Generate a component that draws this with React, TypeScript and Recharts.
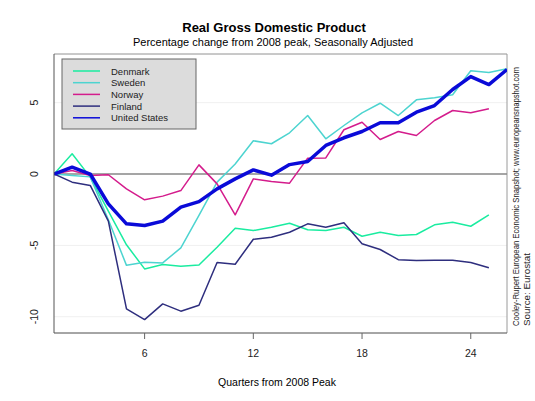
import React from 'react';
import { LineChart, Line, XAxis, YAxis, CartesianGrid, ReferenceLine } from 'recharts';

// quarters since the 2008 peak
const quarters = [1, 2, 3, 4, 5, 6, 7, 8, 9, 10, 11, 12, 13, 14, 15, 16, 17, 18, 19, 20, 21, 22, 23, 24, 25, 26];

const denmark = [0, 1.42, -0.22, -2.6, -4.96, -6.65, -6.34, -6.46, -6.37, -5.13, -3.8, -3.96, -3.73, -3.45, -3.91, -3.96, -3.73, -4.36, -4.08, -4.31, -4.24, -3.56, -3.38, -3.66, -2.87];
const sweden = [0, -0.1, -0.2, -3.2, -6.4, -6.18, -6.23, -5.17, -2.9, -0.57, 0.7, 2.33, 2.12, 2.89, 4.1, 2.47, 3.4, 4.29, 4.96, 4.1, 5.2, 5.34, 5.55, 7.24, 7.12, 7.37];
const norway = [0, 0.25, -0.1, -0.05, -1.04, -1.81, -1.55, -1.16, 0.64, -0.69, -2.86, -0.34, -0.53, -0.64, 1.11, 1.13, 3.1, 3.63, 2.42, 2.98, 2.7, 3.75, 4.45, 4.3, 4.57];
const finland = [0, -0.57, -0.8, -3.3, -9.45, -10.2, -9.1, -9.61, -9.2, -6.2, -6.32, -4.57, -4.43, -4.08, -3.49, -3.73, -3.41, -4.89, -5.29, -6.0, -6.06, -6.04, -6.04, -6.2, -6.57];
const unitedStates = [0, 0.48, 0, -2.09, -3.49, -3.61, -3.3, -2.32, -1.93, -1.04, -0.34, 0.29, -0.08, 0.66, 0.88, 2.0, 2.54, 2.98, 3.59, 3.59, 4.33, 4.8, 5.92, 6.83, 6.27, 7.32];

const xTicks = [6, 12, 18, 24];
const yTicks = [-10, -5, 0, 5];

const series = [
  { key: 'denmark', name: 'Denmark', values: denmark, color: '#1aeca0', width: 1.5 },
  { key: 'sweden', name: 'Sweden', values: sweden, color: '#4dd4d0', width: 1.5 },
  { key: 'norway', name: 'Norway', values: norway, color: '#d41c8c', width: 1.5 },
  { key: 'finland', name: 'Finland', values: finland, color: '#2e2e7e', width: 1.5 },
  { key: 'us', name: 'United States', values: unitedStates, color: '#0a0ad8', width: 3.5 },
];

const data = quarters.map((q, i) => {
  const row: any = { q };
  series.forEach((s) => {
    if (i < s.values.length) row[s.key] = s.values[i];
  });
  return row;
});

const FONT = '"Liberation Sans", Arial, Helvetica, sans-serif';
const Y_MIN = -11.14;
const Y_MAX = 8.41;

const XTick = (props: any) => {
  const { x, payload } = props;
  return (
    <text x={x} y={353} textAnchor="middle" dominantBaseline="central" fontSize={10.5} fill="#222" fontFamily={FONT}>
      {payload.value}
    </text>
  );
};

const YTick = (props: any) => {
  const { y, payload } = props;
  return (
    <text
      transform={`translate(34,${y}) rotate(-90)`}
      textAnchor="middle"
      dominantBaseline="central"
      fontSize={10.5}
      fill="#222"
      fontFamily={FONT}
    >
      {payload.value}
    </text>
  );
};

export default function App() {
  return (
    <div style={{ position: 'absolute', left: 0, top: 0, width: 535, height: 401, background: '#fff' }}>
      <LineChart
        width={535}
        height={401}
        data={data}
        margin={{ top: 54, right: 28, left: 24, bottom: 38 }}
      >
        <CartesianGrid vertical={false} stroke="#f0f0f0" />
        <XAxis
          dataKey="q"
          type="number"
          domain={[1, 26]}
          ticks={xTicks}
          height={30}
          axisLine={{ stroke: '#555' }}
          tickLine={{ stroke: '#666' }}
          tickSize={6}
          tick={<XTick />}
          allowDataOverflow
        />
        <YAxis
          type="number"
          domain={[Y_MIN, Y_MAX]}
          ticks={yTicks}
          width={30}
          axisLine={{ stroke: '#555' }}
          tickLine={false}
          tick={<YTick />}
          allowDataOverflow
        />
        <ReferenceLine y={Y_MAX} stroke="#9a9a9a" />
        <ReferenceLine x={26} stroke="#9a9a9a" />
        <ReferenceLine y={0} stroke="#8a8a8a" strokeWidth={1.5} />
        {series.map((s) => (
          <Line
            key={s.key}
            dataKey={s.key}
            stroke={s.color}
            strokeWidth={s.width}
            dot={false}
            activeDot={false}
            isAnimationActive={false}
            strokeLinejoin="round"
          />
        ))}
      </LineChart>
      <svg width={535} height={401} style={{ position: 'absolute', left: 0, top: 0, pointerEvents: 'none' }}>
        <text x={274} y={27} textAnchor="middle" dominantBaseline="central" fontSize={13} fontWeight="bold" fill="#000" fontFamily={FONT}>
          Real Gross Domestic Product
        </text>
        <text x={273} y={42} textAnchor="middle" dominantBaseline="central" fontSize={11} fill="#000" fontFamily={FONT}>
          Percentage change from 2008 peak, Seasonally Adjusted
        </text>
        <text x={277} y={382} textAnchor="middle" dominantBaseline="central" fontSize={10.5} fill="#000" fontFamily={FONT}>
          Quarters from 2008 Peak
        </text>
        <text
          transform="translate(519,326) rotate(-90)"
          textAnchor="start"
          fontSize={8.6}
          fill="#222"
          fontFamily={FONT}
          textLength={259}
          lengthAdjust="spacingAndGlyphs"
        >
          Cooley-Rupert European Economic Snapshot; www.europeansnapshot.com
        </text>
        <text
          transform="translate(529.5,326) rotate(-90)"
          textAnchor="start"
          fontSize={8.6}
          fill="#222"
          fontFamily={FONT}
          textLength={73}
          lengthAdjust="spacingAndGlyphs"
        >
          Source: Eurostat
        </text>
        <rect x={62} y={59} width={134} height={70} fill="#dcdcdc" stroke="#666" strokeWidth={1} />
        {series.map((s, i) => {
          const y = 71 + i * 11.7;
          return (
            <g key={s.key}>
              <line x1={73} x2={100} y1={y} y2={y} stroke={s.color} strokeWidth={1.5} />
              <text x={111} y={y} dominantBaseline="central" fontSize={9.5} fill="#222" fontFamily={FONT}>
                {s.name}
              </text>
            </g>
          );
        })}
      </svg>
    </div>
  );
}
